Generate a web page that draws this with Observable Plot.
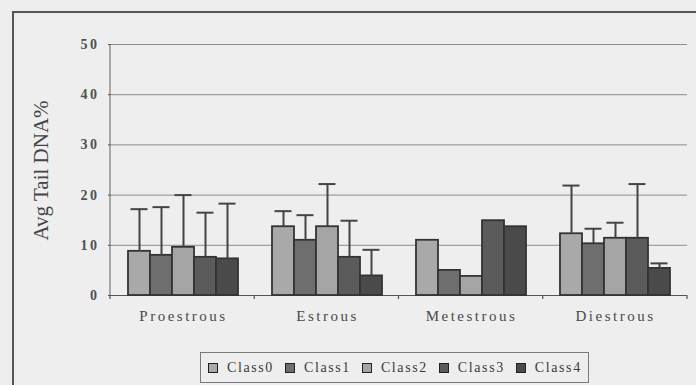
<!DOCTYPE html>
<html>
<head>
<meta charset="utf-8">
<script src="https://cdn.jsdelivr.net/npm/d3@7"></script>
<script src="https://cdn.jsdelivr.net/npm/@observablehq/plot@0.6"></script>
<style>
  html, body { margin: 0; padding: 0; background: #eeeeee; }
  #wrap { position: relative; width: 696px; height: 385px; overflow: hidden; background: #eeeeee; }
  #frame { position: absolute; left: 12px; top: 11px; width: 720px; height: 420px;
           border-left: 2px solid #555; border-top: 2px solid #555; box-sizing: border-box; }
  #chart { position: absolute; left: 0; top: 0; }
  #chart svg text { font-family: "Liberation Serif", "DejaVu Serif", serif; }
  #chart svg [aria-label^="fx-axis"] text { letter-spacing: 2.5px; }
  #chart svg [aria-label^="y-axis"] text { letter-spacing: 2.5px; font-weight: bold; fill: #505050; }
  #legend { position: absolute; left: 200px; top: 352px; width: 389px; height: 31px;
            border: 1.5px solid #7a7a7a; box-sizing: border-box; display: flex; align-items: center;
            padding-left: 7px; font-family: "Liberation Serif", serif; font-size: 14px; color: #3a3a3a; }
  #legend .item { display: flex; align-items: center; margin-right: 11px; }
  #legend .sw { width: 8px; height: 8px; border: 1px solid #222; margin-right: 9px; margin-top: 1px; }
  #legend .lab { letter-spacing: 1.6px; }
</style>
</head>
<body>
<div id="wrap">
  <div id="frame"></div>
  <div id="chart"></div>
  <div id="legend"></div>
</div>
<script>
// ---- data ----
const groups = ["Proestrous", "Estrous", "Metestrous", "Diestrous"];
const classes = ["Class0", "Class1", "Class2", "Class3", "Class4"];
const class0 = [8.8, 13.7, 11.0, 12.3];
const class1 = [8.0, 11.0, 5.0, 10.3];
const class2 = [9.6, 13.7, 3.8, 11.4];
const class3 = [7.6, 7.6, 14.9, 11.4];
const class4 = [7.3, 3.9, 13.7, 5.4];
const err0 = [8.4, 3.1, null, 9.6];
const err1 = [9.6, 5.0, null, 3.0];
const err2 = [10.4, 8.5, null, 3.1];
const err3 = [8.9, 7.3, null, 10.8];
const err4 = [11.0, 5.2, null, 1.0];
const yTicks = [0, 10, 20, 30, 40, 50];
const colors = ["#a9a9a9", "#6e6e6e", "#a5a5a5", "#5b5b5b", "#4a4a4a"];

const series = [class0, class1, class2, class3, class4];
const errs = [err0, err1, err2, err3, err4];
const rows = [];
groups.forEach((g, gi) => classes.forEach((c, ci) => {
  rows.push({group: g, cls: c, value: series[ci][gi], err: errs[ci][gi]});
}));
const errRows = rows.filter(d => d.err != null).map(d => ({...d, upper: d.value + d.err}));

const W = 696, H = 340;
const chart = Plot.plot({
  width: W, height: H,
  marginLeft: 110, marginRight: 9, marginTop: 44, marginBottom: 45,
  style: {background: "transparent", fontSize: "14px", fontFamily: "Liberation Serif, serif", color: "#444"},
  fx: {domain: groups, padding: 0, label: null},
  x: {domain: classes, paddingInner: 0, paddingOuter: 0.72, axis: null},
  y: {domain: [0, 50], label: null},
  color: {domain: classes, range: colors},
  marks: [
    Plot.gridY(yTicks.slice(1), {stroke: "#8c8c8c", strokeOpacity: 1, strokeWidth: 1}),
    Plot.axisY(yTicks, {tickSize: 3, tickPadding: 9, label: null, color: "#444", fontSize: 14, tickFormat: d => String(d)}),
    Plot.axisFx({anchor: "bottom", tickSize: 0, tickPadding: 15, label: null, color: "#4a4a4a", fontSize: 15}),
    Plot.ruleY([0], {stroke: "#555", strokeWidth: 1.2}),
    Plot.barY(rows, {fx: "group", x: "cls", y: "value", fill: "cls", stroke: "#333", strokeWidth: 1.8}),
    Plot.ruleX(errRows, {fx: "group", x: "cls", y1: "value", y2: "upper", stroke: "#444", strokeWidth: 2}),
    Plot.tickY(errRows, {fx: "group", x: "cls", y: "upper", stroke: "#444", strokeWidth: 2, insetLeft: 2.5, insetRight: 2.5})
  ]
});
document.getElementById("chart").appendChild(chart);

// decorations using the chart's own scales
const svg = d3.select(chart.tagName.toLowerCase() === "svg" ? chart : chart.querySelector("svg"));
const fxS = chart.scale("fx");
const yS = chart.scale("y");
const r0 = fxS.range[0], r1 = fxS.range[1];
const n = groups.length;
const y0 = yS.apply(0), yTop = yS.apply(50);
const deco = svg.append("g");
deco.append("line").attr("x1", r0).attr("x2", r0).attr("y1", yTop).attr("y2", y0)
  .attr("stroke", "#777").attr("stroke-width", 1.2);
d3.range(n + 1).forEach(i => {
  const x = r0 + i * (r1 - r0) / n;
  deco.append("line").attr("x1", x).attr("x2", x).attr("y1", y0).attr("y2", y0 + 4)
    .attr("stroke", "#555").attr("stroke-width", 1.2);
});
deco.append("text")
  .attr("transform", `translate(48,${(yTop + y0) / 2 + 1}) rotate(-90)`)
  .attr("text-anchor", "middle")
  .attr("fill", "#444")
  .style("font-size", "21px")
  .text("Avg Tail DNA%");

// legend
const leg = document.getElementById("legend");
classes.forEach((c, i) => {
  const it = document.createElement("div"); it.className = "item";
  const sw = document.createElement("div"); sw.className = "sw"; sw.style.background = colors[i];
  const lab = document.createElement("span"); lab.className = "lab"; lab.textContent = c;
  it.appendChild(sw); it.appendChild(lab); leg.appendChild(it);
});
</script>
</body>
</html>
